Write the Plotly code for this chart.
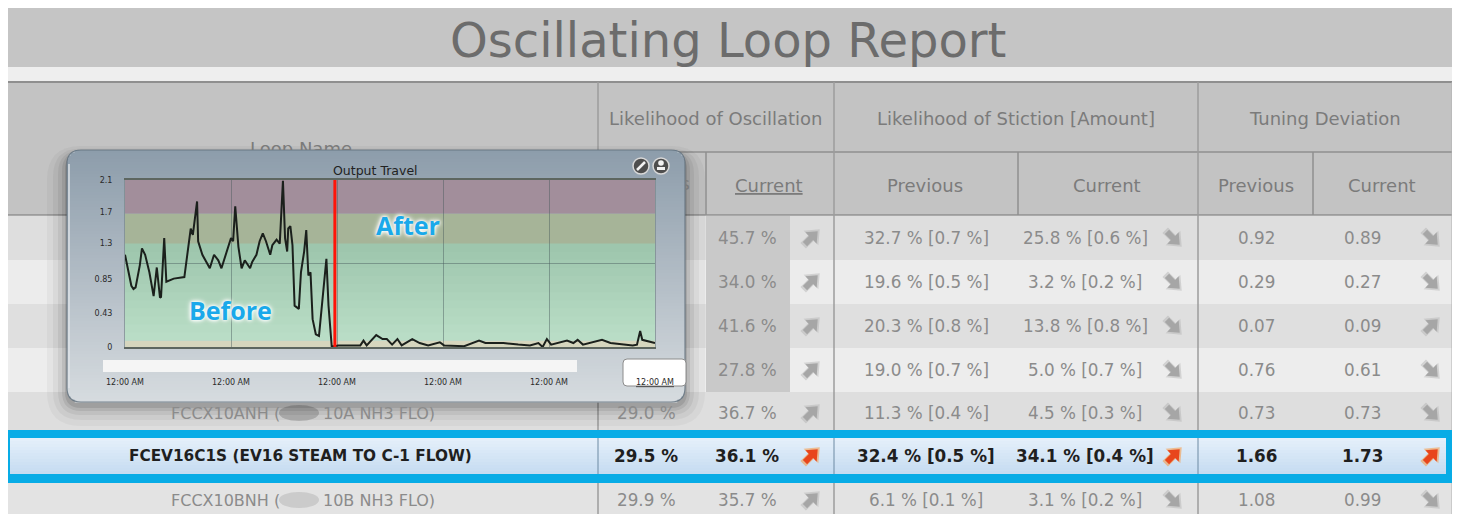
import math
import plotly.graph_objects as go

W, H = 1460, 514
OFF = 8  # the page body offsets the figure by 8px; layout coordinates below are screen pixels
FONT = "DejaVu Sans"

# ---------------- data ----------------
title_text = "Oscillating Loop Report"
group_headers = ["Likelihood of Oscillation", "Likelihood of Stiction [Amount]", "Tuning Deviation"]
sub_headers = ["Previous", "Current", "Previous", "Current", "Previous", "Current"]

# table rows (rows 1-4 partly hidden behind the pop-up)
name_prefix = [None, None, None, None, "FCCX10ANH (", "FCEV16C1S (EV16 STEAM TO C-1 FLOW)", "FCCX10BNH ("]
name_suffix = [None, None, None, None, "10A NH3 FLO)", None, "10B NH3 FLO)"]
osc_prev = [None, None, None, None, 29.0, 29.5, 29.9]
osc_curr = [45.7, 34.0, 41.6, 27.8, 36.7, 36.1, 35.7]
osc_trend = ["up", "up", "up", "up", "up", "up", "up"]
stic_prev = [32.7, 19.6, 20.3, 19.0, 11.3, 32.4, 6.1]
stic_prev_amt = [0.7, 0.5, 0.8, 0.7, 0.4, 0.5, 0.1]
stic_curr = [25.8, 3.2, 13.8, 5.0, 4.5, 34.1, 3.1]
stic_curr_amt = [0.6, 0.2, 0.8, 0.7, 0.3, 0.4, 0.2]
stic_trend = ["down", "down", "down", "down", "down", "up", "down"]
tune_prev = [0.92, 0.29, 0.07, 0.76, 0.73, 1.66, 1.08]
tune_curr = [0.89, 0.27, 0.09, 0.61, 0.73, 1.73, 0.99]
tune_trend = ["down", "down", "up", "down", "down", "up", "down"]
highlight_row = 5

# pop-up chart "Output Travel" (x = days from first 12:00 AM tick)
travel_days = [
    0.00, 0.02, 0.06, 0.08, 0.10, 0.14, 0.16, 0.19, 0.23, 0.27,
    0.30, 0.33, 0.34, 0.37, 0.39, 0.46, 0.56, 0.62, 0.64, 0.68,
    0.69, 0.73, 0.77, 0.80, 0.84, 0.88, 0.91, 0.95, 1.00, 1.02,
    1.04, 1.07, 1.10, 1.13, 1.15, 1.18, 1.20, 1.24, 1.27, 1.30,
    1.33, 1.37, 1.39, 1.43, 1.46, 1.49, 1.51, 1.53, 1.54, 1.56,
    1.58, 1.60, 1.64, 1.66, 1.69, 1.71, 1.73, 1.75, 1.77, 1.80,
    1.83, 1.87, 1.90, 1.92, 1.95, 1.98, 2.01, 2.22, 2.25, 2.28,
    2.37, 2.43, 2.47, 2.52, 2.57, 2.61, 2.71, 2.78, 2.86, 2.97,
    3.01, 3.20, 3.34, 3.40, 3.57, 3.71, 3.82, 3.90, 3.94, 3.98,
    4.02, 4.17, 4.23, 4.27, 4.32, 4.50, 4.58, 4.79, 4.83, 4.86,
    4.88, 5.00]
travel_vals = [
    1.16, 1.03, 0.77, 0.73, 0.75, 1.03, 1.24, 1.16, 0.94, 0.64,
    1.00, 0.62, 0.63, 1.37, 0.82, 0.86, 0.88, 1.49, 1.41, 1.83,
    1.33, 1.16, 1.07, 0.99, 1.16, 1.09, 0.99, 1.16, 1.37, 1.33,
    1.77, 1.26, 0.99, 1.09, 1.05, 0.99, 1.07, 1.16, 1.33, 1.43,
    1.33, 1.16, 1.28, 1.35, 1.30, 2.09, 1.37, 1.20, 1.49, 1.52,
    1.28, 0.52, 0.48, 0.94, 1.20, 1.47, 0.90, 0.94, 0.35, 0.16,
    0.14, 0.65, 1.11, 0.52, 0.01, 0.01, 0.02, 0.02, 0.08, 0.02,
    0.15, 0.10, 0.10, 0.03, 0.10, 0.02, 0.10, 0.05, 0.02, 0.06,
    0.02, 0.01, 0.08, 0.05, 0.05, 0.03, 0.02, 0.05, 0.00, 0.10,
    0.03, 0.08, 0.05, 0.09, 0.03, 0.09, 0.05, 0.02, 0.03, 0.20,
    0.09, 0.05]
change_day = 1.98
x_tick_days = [0, 1, 2, 3, 4, 5]
x_tick_text = ["12:00 AM"] * 6
y_tick_vals = [0, 0.43, 0.85, 1.3, 1.7, 2.1]
y_tick_text = ["0", "0.43", "0.85", "1.3", "1.7", "2.1"]
band_limits = [0, 0.08, 1.3, 1.68, 2.1]
mid_grid = [1.05]

# ---------------- helpers ----------------
shapes, annos = [], []


def fx(p):
    return (p - OFF) / W


def fy(p):
    return 1 - (p - OFF) / H


def rect(x0, y0, x1, y1, fill, lc=None, lw=0):
    shapes.append(dict(type="rect", xref="x", yref="y", x0=x0, y0=y0, x1=x1, y1=y1,
                       fillcolor=fill, line=dict(color=lc or "rgba(0,0,0,0)", width=lw), layer="below"))


def seg(x0, y0, x1, y1, color, w=1):
    shapes.append(dict(type="line", xref="x", yref="y", x0=x0, y0=y0, x1=x1, y1=y1,
                       line=dict(color=color, width=w), layer="below"))


def rpath(x0, y0, x1, y1, r):
    return (f"M{x0+r},{y0} L{x1-r},{y0} Q{x1},{y0} {x1},{y0+r} L{x1},{y1-r} Q{x1},{y1} {x1-r},{y1} "
            f"L{x0+r},{y1} Q{x0},{y1} {x0},{y1-r} L{x0},{y0+r} Q{x0},{y0} {x0+r},{y0} Z")


def rrect(x0, y0, x1, y1, r, fill, lc=None, lw=0):
    shapes.append(dict(type="path", path=rpath(x0, y0, x1, y1, r), xref="x", yref="y",
                       fillcolor=fill, line=dict(color=lc or "rgba(0,0,0,0)", width=lw), layer="below"))


def circ(cx, cy, rx, fill, lc=None, lw=0, ry=None):
    ry = rx if ry is None else ry
    shapes.append(dict(type="circle", xref="x", yref="y", x0=cx-rx, y0=cy-ry, x1=cx+rx, y1=cy+ry,
                       fillcolor=fill, line=dict(color=lc or "rgba(0,0,0,0)", width=lw), layer="below"))


def text(x, y, s, size=16, color="#8b8b8b", xanchor="center", family=FONT, shadow=None):
    f = dict(size=size, color=color, family=family)
    if shadow:
        f["shadow"] = shadow
    annos.append(dict(x=x, y=y, xref="x", yref="y", text=s, showarrow=False, font=f,
                      xanchor=xanchor, yanchor="middle"))


ARROW_PTS = [(-8.5, -3.0), (0.0, -3.0), (0.0, -8.0), (9.5, 0.0), (0.0, 8.0), (0.0, 3.0), (-8.5, 3.0)]


def arrow(cx, cy, up, color, glow):
    th = -math.pi / 4 if up else math.pi / 4
    c, s = math.cos(th), math.sin(th)
    for scale, col in ((1.3, glow), (1.0, color)):
        pts = [(cx + scale * (x * c - y * s), cy + scale * (x * s + y * c)) for x, y in ARROW_PTS]
        path = "M" + " L".join(f"{a:.2f},{b:.2f}" for a, b in pts) + " Z"
        shapes.append(dict(type="path", path=path, xref="x", yref="y", fillcolor=col,
                           line=dict(width=0), layer="below"))


def mix(c1, c2, t):
    return "rgb(%d,%d,%d)" % tuple(round(a + (b - a) * t) for a, b in zip(c1, c2))


# ---------------- table ----------------
L, R = 8, 1452
rect(L, 8, R, 67, "#c5c5c5")
rect(L, 67, R, 81, "#eeeeee")
rect(L, 82, R, 215, "#c3c3c3")
text(728, 40, title_text, size=48, color="#6c6c6c")

row_bounds = [216, 260, 304, 348, 392, 432, 482, 530]
row_fill = ["#dedede", "#ececec", "#dfdfdf", "#ededed", "#dedede", None, "#e3e3e3"]
row_y = [238, 282, 326, 370, 413, 456, 500]
for i, c in enumerate(row_fill):
    if c:
        rect(L, row_bounds[i], R, row_bounds[i + 1], c)
for i in range(4):
    rect(706, row_bounds[i], 790, row_bounds[i + 1], "#c9c9c9")

# header lines
hc = "#8f8f8f"
seg(L, 82, R, 82, hc, 2)
seg(598, 152, R, 152, hc, 1.5)
seg(L, 215, R, 215, hc, 1.5)
for xv in (598, 834, 1198):
    seg(xv, 82, xv, H + OFF, "#9c9c9c", 1.5)
seg(R, 82, R, H + OFF, "#b0b0b0", 1)
for xv in (706, 1018, 1313):
    seg(xv, 152, xv, 215, hc, 1.5)

hdr_col = "#7b7b7b"
HS = 18
text(716, 118, group_headers[0], HS, hdr_col)
text(1016, 118, group_headers[1], HS, hdr_col)
text(1325, 118, group_headers[2], HS, hdr_col)
text(769, 185, "<u>" + sub_headers[1] + "</u>", HS, hdr_col)
text(925, 185, sub_headers[2], HS, hdr_col)
text(1107, 185, sub_headers[3], HS, hdr_col)
text(1256, 185, sub_headers[4], HS, hdr_col)
text(1382, 185, sub_headers[5], HS, hdr_col)

# highlighted row
rect(4, 430, R, 483, "#08ace6")
for k in range(12):
    y0 = 438 + k * 3
    rect(10, y0, 1446, min(y0 + 3.8, 474), mix((228, 239, 250), (198, 220, 241), k / 11))
for xv in (598, 834, 1198):
    seg(xv, 438, xv, 474, "#6d8aa3", 1)

# body text
for i in range(7):
    hi = i == highlight_row
    col = "#1f1f1f" if hi else "#8b8b8b"
    fs = 16.8
    b = (lambda s: "<b>" + s + "</b>") if hi else (lambda s: s)
    y = row_y[i]
    if name_prefix[i] and name_suffix[i] is None:
        text(300, y, b(name_prefix[i]), 15.3, col)
    elif name_prefix[i]:
        text(282, y, b(name_prefix[i]), 16, col, xanchor="right")
        circ(299, y, 20, "rgba(178,178,178,0.9)" if i == 4 else "rgba(200,200,200,0.9)", ry=8)
        text(321, y, b(name_suffix[i]), 16, col, xanchor="left")
    if osc_prev[i] is not None:
        text(646, y, b(f"{osc_prev[i]:.1f} %"), fs, col)
    text(747, y, b(f"{osc_curr[i]:.1f} %"), fs, col)
    text(926, y, b(f"{stic_prev[i]:.1f} % [{stic_prev_amt[i]:.1f} %]"), fs, col)
    text(1085, y, b(f"{stic_curr[i]:.1f} % [{stic_curr_amt[i]:.1f} %]"), fs, col)
    text(1256, y, b(f"{tune_prev[i]:.2f}"), fs, col)
    text(1362, y, b(f"{tune_curr[i]:.2f}"), fs, col)
    ac, gc = ("#e8461c", "rgba(250,150,60,0.55)") if hi else ("#a6a6a6", "rgba(170,170,170,0.4)")
    arrow(811, y, osc_trend[i] == "up", ac, gc)
    arrow(1173, y, stic_trend[i] == "up", ac, gc)
    arrow(1431, y, tune_trend[i] == "up", ac, gc)

# ---------------- pop-up window ----------------
PX0, PY0, PX1, PY1, PR = 67, 150, 685, 402, 14
for e, a in [(20, 0.035), (14, 0.045), (9, 0.06), (5, 0.08), (2, 0.1)]:
    rrect(PX0 - e, PY0 - e * 0.4 + 4, PX1 + e, PY1 + e + 4, PR + e, f"rgba(0,0,0,{a})")
rrect(PX0, PY0, PX1, PY1, PR, "#a9b5bf")
n = 84
top_c, bot_c = (141, 157, 171), (214, 219, 223)
for k in range(n):
    y0 = PY0 + k * (PY1 - PY0) / n
    y1 = y0 + (PY1 - PY0) / n
    ym = (y0 + y1) / 2
    d = 0
    if ym < PY0 + PR:
        dy = PY0 + PR - ym
        d = PR - (PR ** 2 - dy ** 2) ** 0.5
    elif ym > PY1 - PR:
        dy = ym - (PY1 - PR)
        d = PR - (PR ** 2 - dy ** 2) ** 0.5
    rect(PX0 + d, y0, PX1 - d, y1 + 0.6, mix(top_c, bot_c, k / (n - 1)))
shapes.append(dict(type="path", path=rpath(PX0, PY0, PX1, PY1, PR), xref="x", yref="y",
                   fillcolor="rgba(0,0,0,0)", line=dict(color="rgba(95,110,122,0.8)", width=1.2), layer="below"))
seg(PX0 + 2, PY0 + 14, PX0 + 2, PY1 - 14, "rgba(225,230,234,0.7)", 2)

# scrollbar strip and the white label box
rect(103, 360, 577, 372, "rgba(247,247,247,0.95)")
shapes.append(dict(type="path", path=rpath(623, 359, 686, 386, 4), xref="x", yref="y",
                   fillcolor="#ffffff", line=dict(color="#8c8c8c", width=1), layer="below"))
# icons
circ(641, 166, 8, "#4e4e4e", "#d8d8d8", 1.5)
seg(637, 170, 645, 162, "#f2f2f2", 2.5)
circ(661, 166, 8, "#4e4e4e", "#d8d8d8", 1.5)
circ(661, 163, 2.8, "#f2f2f2")
rect(657, 167, 665, 170, "#f2f2f2")
text(375, 170, "Output Travel", 12.5, "#222222")

# bands in the inset plot (drawn on the inset axes)
band_cols = [(214, 214, 190), None, (166, 180, 152), (162, 142, 155)]
for j in range(4):
    lo, hi_ = band_limits[j], band_limits[j + 1]
    if band_cols[j] is None:
        m = 12
        for k in range(m):
            a0 = lo + (hi_ - lo) * k / m
            a1 = lo + (hi_ - lo) * (k + 1) / m
            c = mix((185, 221, 198), (158, 198, 173), k / (m - 1))
            shapes.append(dict(type="rect", xref="x2", yref="y2", x0=x_tick_days[0], x1=x_tick_days[-1],
                               y0=a0, y1=a1 + 0.01, fillcolor=c, line=dict(width=0), layer="below"))
    else:
        shapes.append(dict(type="rect", xref="x2", yref="y2", x0=x_tick_days[0], x1=x_tick_days[-1],
                           y0=lo, y1=hi_, fillcolor="rgb(%d,%d,%d)" % band_cols[j],
                           line=dict(width=0), layer="below"))

# Before / After labels
glow = "0px 0px 3px #ffffff, 0px 0px 4px #ffffff, 0px 0px 6px #ffffff"
text(230, 310, "<b>Before</b>", 25, "#1aa9ea", family="Open Sans", shadow=glow)
text(408, 225, "<b>After</b>", 25, "#1aa9ea", family="Open Sans", shadow=glow)

# ---------------- figure ----------------
fig = go.Figure()
fig.add_trace(go.Scatter(x=travel_days, y=travel_vals, mode="lines",
                         line=dict(color="#1b201c", width=2), xaxis="x2", yaxis="y2",
                         hoverinfo="skip", showlegend=False))
fig.add_trace(go.Scatter(x=[change_day, change_day], y=[band_limits[0], band_limits[-1]], mode="lines",
                         line=dict(color="#ff1408", width=3), xaxis="x2", yaxis="y2",
                         hoverinfo="skip", showlegend=False))
# clipped header texts partly hidden by the pop-up
fig.add_trace(go.Scatter(x=[301], y=[150], text=["Loop Name"], mode="text", textposition="middle center",
                         textfont=dict(family=FONT, size=HS, color=hdr_col), xaxis="x3", yaxis="y3",
                         cliponaxis=True, hoverinfo="skip", showlegend=False))
fig.add_trace(go.Scatter(x=[690], y=[185], text=[sub_headers[0]], mode="text", textposition="middle left",
                         textfont=dict(family=FONT, size=HS, color=hdr_col), xaxis="x4", yaxis="y4",
                         cliponaxis=True, hoverinfo="skip", showlegend=False))

tick_font = dict(family=FONT, size=8, color="#2a2a2a")
fig.update_layout(
    width=W, height=H, margin=dict(l=0, r=0, t=0, b=0, autoexpand=False), autosize=False,
    paper_bgcolor="#f6f6f6", plot_bgcolor="rgba(0,0,0,0)", showlegend=False,
    xaxis=dict(domain=[0, 1], range=[OFF, W + OFF], visible=False, fixedrange=True, automargin=False),
    yaxis=dict(domain=[0, 1], range=[H + OFF, OFF], visible=False, fixedrange=True, automargin=False),
    xaxis2=dict(domain=[fx(125), fx(655)], range=[0, 5], anchor="y2", tickvals=x_tick_days,
                ticktext=x_tick_text[:-1] + ["<u>" + x_tick_text[-1] + "</u>"], tickfont=tick_font,
                ticklabelstandoff=27, ticks="", showgrid=True, gridcolor="rgba(70,88,92,0.45)", gridwidth=1,
                zeroline=False, showline=True, linecolor="#5d6660", linewidth=1.5, mirror=True,
                fixedrange=True, automargin=False),
    yaxis2=dict(domain=[fy(347), fy(180)], range=[0, 2.1], anchor="x2", tickvals=y_tick_vals,
                ticktext=y_tick_text, tickfont=tick_font, ticklabelstandoff=10, ticks="", showgrid=False,
                minor=dict(tickvals=mid_grid, showgrid=True, gridcolor="rgba(70,88,92,0.45)", ticks=""),
                zeroline=False, showline=True, linecolor="rgba(120,135,140,0.7)", linewidth=1, mirror=True,
                fixedrange=True, automargin=False),
    xaxis3=dict(domain=[fx(8), fx(598)], range=[8, 598], anchor="y3", visible=False, fixedrange=True,
                automargin=False),
    yaxis3=dict(domain=[fy(150), fy(83)], range=[150, 83], anchor="x3", visible=False, fixedrange=True,
                automargin=False),
    xaxis4=dict(domain=[fx(685), fx(705)], range=[685, 705], anchor="y4", visible=False, fixedrange=True,
                automargin=False),
    yaxis4=dict(domain=[fy(214), fy(153)], range=[214, 153], anchor="x4", visible=False, fixedrange=True,
                automargin=False),
    shapes=shapes, annotations=annos, hovermode=False,
)
fig.write_html("out.html")
